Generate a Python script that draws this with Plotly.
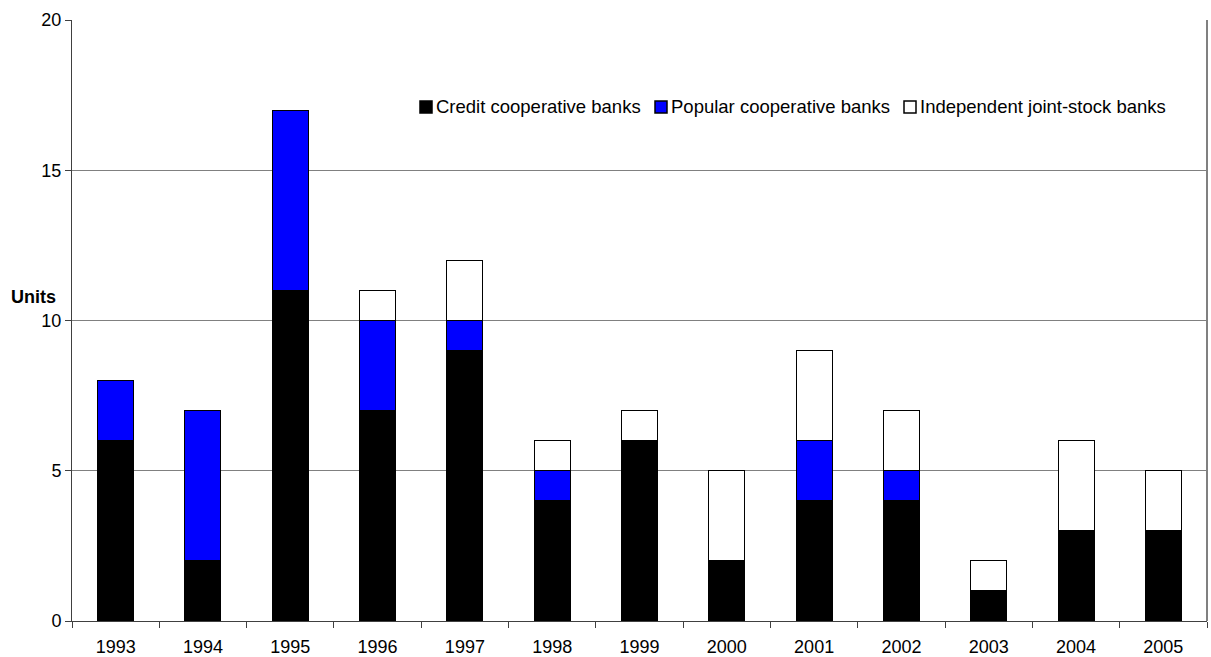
import plotly.graph_objects as go

years = ["1993", "1994", "1995", "1996", "1997", "1998", "1999", "2000", "2001", "2002", "2003", "2004", "2005"]
credit = [6, 2, 11, 7, 9, 4, 6, 2, 4, 4, 1, 3, 3]
popular = [2, 5, 6, 3, 1, 1, 0, 0, 2, 1, 0, 0, 0]
independent = [0, 0, 0, 1, 2, 1, 1, 3, 3, 2, 1, 3, 2]

series_names = ["Credit cooperative banks", "Popular cooperative banks", "Independent joint-stock banks"]
series_colors = ["#000000", "#0000FF", "#FFFFFF"]

def nz(vals):
    return [v if v != 0 else None for v in vals]

W, H = 1211, 657
ML, MR, MT, MB = 72, 4, 20, 36
PW, PH = W - ML - MR, H - MT - MB

def px_x(px):
    return (px - ML) / PW

def px_y(py):
    return (H - MB - py) / PH

fig = go.Figure()
for name, vals, col in zip(series_names, [credit, popular, independent], series_colors):
    fig.add_trace(go.Bar(
        x=years, y=nz(vals), name=name, showlegend=False,
        marker=dict(color=col, line=dict(color="#000000", width=1)),
    ))

shapes = [dict(type="line", xref="paper", yref="paper", x0=1, x1=1, y0=0, y1=1,
               line=dict(color="#808080", width=2))]
annotations = [dict(text="<b>Units</b>", xref="paper", yref="paper", x=px_x(33), y=px_y(297),
                    xanchor="center", yanchor="middle", showarrow=False, font=dict(size=18))]

# manual legend
leg_sq_px = [420, 655, 904]
leg_y = 107
for name, col, sx in zip(series_names, series_colors, leg_sq_px):
    shapes.append(dict(type="rect", xref="paper", yref="paper",
                       x0=px_x(sx), x1=px_x(sx + 12), y0=px_y(leg_y + 6), y1=px_y(leg_y - 6),
                       fillcolor=col, line=dict(color="#000000", width=1.5)))
    annotations.append(dict(text=name, xref="paper", yref="paper", x=px_x(sx + 14), y=px_y(leg_y),
                            xanchor="left", yanchor="middle", showarrow=False, font=dict(size=18.5)))

fig.update_layout(
    barmode="stack",
    bargap=0.588,
    width=W, height=H,
    margin=dict(l=ML, r=MR, t=MT, b=MB, autoexpand=False),
    plot_bgcolor="white", paper_bgcolor="white",
    font=dict(family="Liberation Sans, Arial, sans-serif", size=18, color="#000000"),
    showlegend=False,
    xaxis=dict(
        type="category", tickson="boundaries", ticks="outside", ticklen=6,
        tickcolor="#404040", showline=True, linecolor="#404040", linewidth=1,
        showgrid=False, automargin=False, ticklabelstandoff=9,
    ),
    yaxis=dict(
        range=[0, 20], dtick=5, ticks="outside", ticklen=6, tickcolor="#404040",
        showline=True, linecolor="#404040", linewidth=1, automargin=False,
        showgrid=True, gridcolor="#808080", gridwidth=1, zeroline=False,
    ),
    shapes=shapes,
    annotations=annotations,
)

fig.write_html("out.html", config={"displayModeBar": False},
               post_script="document.body.style.margin='0px';document.body.style.overflow='hidden';")
